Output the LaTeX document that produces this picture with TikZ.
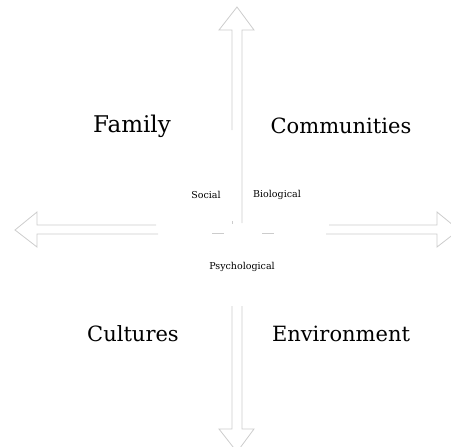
\documentclass[tikz,border=0pt]{standalone}
\usepackage{fontspec}
\setmainfont{DejaVu Serif}
\begin{document}
\begin{tikzpicture}[x=1pt,y=-1pt,
  outline/.style={draw=black!20,line width=0.8pt,line join=miter},
  bigword/.style={font=\fontsize{21}{24}\selectfont,inner sep=0pt,text=black},
  smallword/.style={font=\fontsize{9.5}{11}\selectfont,inner sep=0pt,text=black}]
  \useasboundingbox (0,0) rectangle (451,447);
  \clip (0,0) rectangle (451,447);
  % block arrow pointing up
  \draw[outline] (232,130) -- (232,30) -- (219,30) -- (237,7) -- (254,30) -- (242,30) -- (242,223);
  \draw[outline] (232,221) -- (232,224);
  % block arrow pointing left
  \draw[outline] (156,225) -- (37,225) -- (37,212) -- (15,230) -- (37,247) -- (37,234) -- (158,234);
  % block arrow pointing right
  \draw[outline] (329,225) -- (437,225) -- (437,212) -- (459,230) -- (437,247) -- (437,234) -- (326,234);
  % block arrow pointing down
  \draw[outline] (232,306) -- (232,429) -- (219,429) -- (237,452) -- (254,429) -- (242,429) -- (242,306);
  % fragments of the hub outline
  \draw[outline] (212,233) -- (224,233);
  \draw[outline] (262,233) -- (274,233);
  % quadrant labels
  \node[bigword,font=\fontsize{23}{26}\selectfont] (family) at (132,126) {Family};
  \node[bigword] (communities) at (341,126) {Communities};
  \node[bigword] (cultures) at (133,334) {Cultures};
  \node[bigword] (environment) at (341,334) {Environment};
  % dimension labels
  \node[smallword] (social) at (206,195) {Social};
  \node[smallword] (biological) at (277,195) {Biological};
  \node[smallword] (psychological) at (242,267) {Psychological};
\end{tikzpicture}
\end{document}
